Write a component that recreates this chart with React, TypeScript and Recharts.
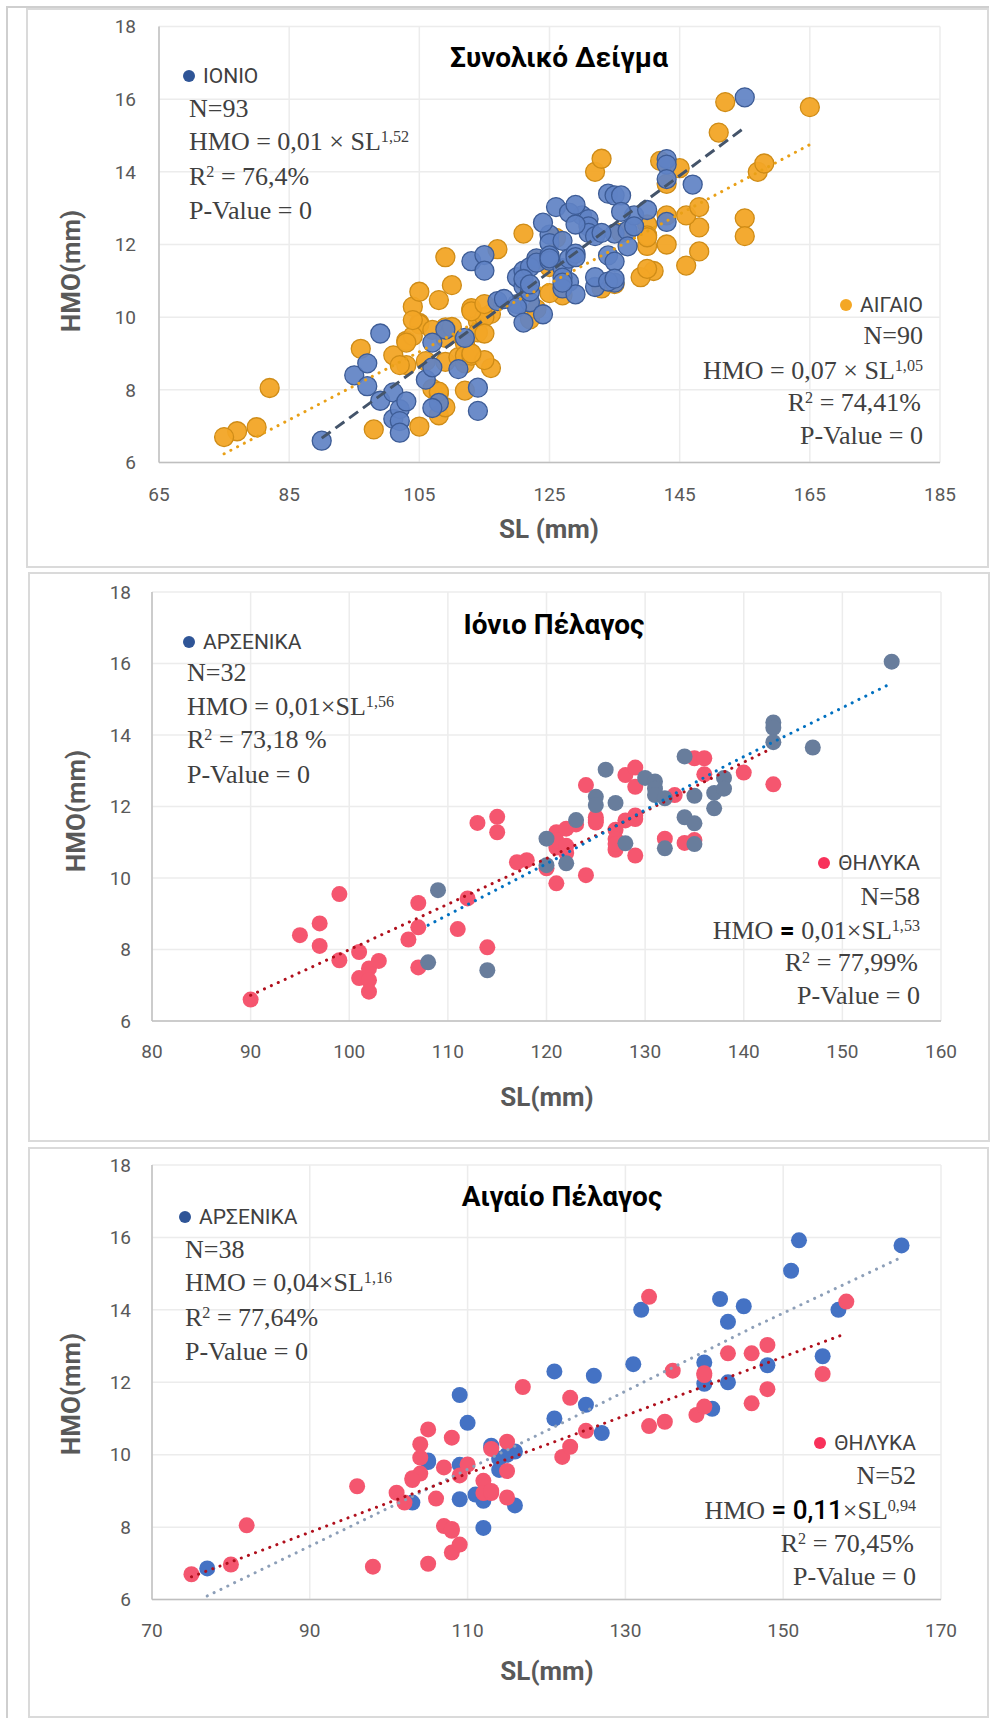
import React from "react";
import { ScatterChart, Scatter, XAxis, YAxis, CartesianGrid } from "recharts";

type P = [number, number]; // [SL, HMO]

// Ιόνιο Πέλαγος
const ionioMale: P[] = [
  [108, 7.64], [109, 9.66], [114, 7.42], [120, 11.1], [120, 10.36], [122, 10.41], [123, 11.62], [125, 12.27],
  [125, 12.04], [126, 13.03], [127, 12.1], [128, 10.97], [130, 12.8], [131, 12.7], [131, 12.5], [131, 12.32],
  [132, 12.23], [132, 10.83], [134, 13.4], [134, 11.7], [135, 12.3], [135, 11.53], [135, 10.95], [137, 12.38],
  [137, 11.95], [138, 12.8], [138, 12.5], [143, 14.35], [143, 14.2], [143, 13.8], [147, 13.65], [155, 16.05],
];
const ionioFemale: P[] = [
  [90, 6.6], [95, 8.4], [97, 8.73], [97, 8.1], [99, 9.55], [99, 7.7], [101, 7.93], [101, 7.2], [102, 7.47],
  [102, 7.14], [102, 6.82], [103, 7.68], [106, 8.28], [107, 9.3], [107, 8.62], [107, 7.5], [111, 8.57],
  [112, 9.43], [113, 11.54], [115, 11.71], [115, 11.28], [114, 8.06], [117, 10.44], [118, 10.5], [120, 10.27],
  [121, 11.28], [121, 10.85], [121, 9.85], [122, 11.38], [122, 10.7], [123, 11.5], [124, 12.6], [124, 10.08],
  [125, 11.7], [125, 11.55], [127, 11.35], [127, 11.09], [127, 10.79], [128, 11.61], [128, 12.88], [129, 13.09],
  [129, 12.55], [129, 11.75], [129, 10.63], [132, 11.1], [133, 12.32], [134, 10.98], [135, 11.06], [135, 13.35],
  [136, 13.35], [136, 12.9], [140, 12.95], [143, 12.62], [121, 11.05], [122, 10.9], [125, 11.62], [127, 10.95],
  [129, 11.65],
];
const ionioMaleTrend: P[] = [[108, 8.68], [121.4, 10.6], [138.3, 13.16], [155, 15.45]];
const ionioFemaleTrend: P[] = [[90, 6.72], [107.9, 9.0], [125.5, 11.25], [142.5, 13.58]];

// Αιγαίο Πέλαγος
const aigaioMale: P[] = [
  [77, 6.86], [103, 8.68], [105, 9.84], [109, 11.65], [109, 9.72], [109, 8.77], [110, 10.88], [111, 8.9],
  [112, 8.73], [112, 7.98], [113, 10.2], [114, 9.89], [114, 9.58], [116, 10.09], [116, 8.6], [121, 12.3],
  [121, 11.0], [125, 11.38], [126, 12.18], [127, 10.6], [131, 12.5], [132, 14.0], [140, 12.55], [140, 11.96],
  [141, 11.27], [142, 14.3], [143, 13.67], [143, 12.0], [145, 14.1], [148, 12.47], [151, 15.08], [152, 15.92],
  [155, 12.72], [157, 14.0], [165, 15.78], [105, 9.8], [113, 10.25], [115, 10.0],
];
const aigaioFemale: P[] = [
  [75, 6.7], [80, 6.97], [82, 8.05], [96, 9.13], [98, 6.91], [101, 8.95], [102, 8.68], [103, 9.35], [104, 9.48],
  [104, 10.29], [104, 9.92], [105, 10.7], [105, 6.99], [106, 8.79], [107, 9.65], [107, 8.03], [108, 10.47],
  [108, 7.9], [108, 7.3], [109, 7.52], [109, 9.43], [110, 9.73], [112, 9.28], [112, 8.94], [113, 8.94],
  [113, 10.16], [115, 10.36], [115, 9.55], [115, 8.82], [117, 11.87], [122, 9.94], [123, 11.57], [123, 10.22],
  [125, 10.66], [133, 14.36], [133, 10.79], [135, 10.91], [136, 12.32], [139, 11.1], [140, 12.25], [140, 11.33],
  [143, 12.8], [146, 12.8], [146, 11.42], [148, 13.03], [148, 11.81], [155, 12.23], [158, 14.23], [103, 9.3],
  [113, 9.0], [140, 12.2], [108, 7.95],
];
const aigaioMaleTrend: P[] = [[77, 6.1], [103, 8.85], [121, 10.77], [146, 13.5], [165, 15.45]];
const aigaioFemaleTrend: P[] = [[75, 6.63], [101.5, 8.8], [121.3, 10.38], [141.6, 12.02], [158, 13.35]];

// Συνολικό δείγμα: τάσεις
const totalIonioTrend: P[] = [[90, 6.67], [122.4, 10.9], [154.7, 15.18]];
const totalAigaioTrend: P[] = [[75, 6.24], [120, 10.45], [165, 14.75]];

const yTicks = [6, 8, 10, 12, 14, 16, 18];
const xTicksTotal = [65, 85, 105, 125, 145, 165, 185];
const xTicksIonio = [80, 90, 100, 110, 120, 130, 140, 150, 160];
const xTicksAigaio = [70, 90, 110, 130, 150, 170];

const rows = (a: P[]) => a.map(([sl, hmo]) => ({ sl, hmo }));

const SERIF = '"Liberation Serif", "Times New Roman", serif';
const SANS = 'Roboto, "Open Sans", sans-serif';
const tickStyle = { fill: "#595959", fontSize: 19, fontFamily: SANS };

const dot = (r: number, fill: string, stroke?: string, op = 1) => (p: any) =>
  <circle cx={p.cx} cy={p.cy} r={r} fill={fill} fillOpacity={op} stroke={stroke || "none"} strokeWidth={1.3} />;
const noDot = () => <g />;
const dotted = (c: string) => ({ stroke: c, strokeWidth: 3, strokeDasharray: "0.1 7.5", strokeLinecap: "round" as const });

function Line({ x, y, right, fs = 26, font = SERIF, color = "#404040", weight = 400, center, children }: any) {
  const s: React.CSSProperties = {
    position: "absolute", top: y - fs / 2, height: fs, lineHeight: fs + "px", fontSize: fs, fontFamily: font,
    color, fontWeight: weight, whiteSpace: "pre",
  };
  if (right !== undefined) s.right = 1000 - right;
  else s.left = x;
  if (center) s.transform = "translateX(-50%)";
  return <div style={s}>{children}</div>;
}
const Sup = ({ children }: any) => <span style={{ fontSize: "0.62em", position: "relative", top: "-0.5em", lineHeight: 0 }}>{children}</span>;
const Bullet = ({ c }: any) => (
  <span style={{ display: "inline-block", width: 12, height: 12, borderRadius: 6, background: c, marginRight: 8, position: "relative", top: -1 }} />
);
const EqB = ({ children, w = 700 }: any) => <span style={{ fontFamily: SANS, fontWeight: w, color: "#000" }}>{children}</span>;

function YTitle({ x, y }: any) {
  return (
    <div style={{ position: "absolute", left: x, top: y, transform: "translate(-50%,-50%) rotate(-90deg)", fontFamily: SANS, fontWeight: 700, fontSize: 26, color: "#595959", whiteSpace: "nowrap", lineHeight: "26px" }}>
      HMO(mm)
    </div>
  );
}

const box = (l: number, t: number, r: number, b: number): React.CSSProperties => ({
  position: "absolute", left: l, top: t, width: r - l, height: b - t, border: "2px solid #dadada", boxSizing: "border-box",
});

export default function App() {
  const grid = <CartesianGrid stroke="#ececec" strokeWidth={1.5} />;
  const axisLine = { stroke: "#bfbfbf", strokeWidth: 1.5 };
  return (
    <div style={{ position: "absolute", left: 0, top: 0, width: 1000, height: 1718, background: "#fff" }}>
      <div style={{ position: "absolute", left: 6, top: 6, width: 2, height: 1712, background: "#cfcfcf" }} />
      <div style={{ position: "absolute", left: 6, top: 6, width: 983, height: 2, background: "#cfcfcf" }} />
      <div style={box(26, 8, 989, 568)} />
      <div style={box(28, 572, 990, 1142)} />
      <div style={box(28, 1147, 989, 1718)} />

      {/* Συνολικό Δείγμα */}
      <div style={{ position: "absolute", left: 0, top: 0 }}>
        <ScatterChart width={1000} height={567} margin={{ top: 26.5, right: 60, left: 109, bottom: 64.5 }}>
          {grid}
          <XAxis type="number" dataKey="sl" domain={[65, 185]} ticks={xTicksTotal} height={40} tickSize={0} tickLine={false} tickMargin={25} tick={tickStyle} axisLine={axisLine} allowDataOverflow />
          <YAxis type="number" dataKey="hmo" domain={[6, 18]} ticks={yTicks} width={50} tickSize={0} tickLine={false} tickMargin={23} tick={tickStyle} axisLine={axisLine} allowDataOverflow />
          <Scatter data={rows([...aigaioMale, ...aigaioFemale])} shape={dot(9.5, "#f2a526", "#cf8c17", 0.95)} isAnimationActive={false} />
          <Scatter data={rows([...ionioMale, ...ionioFemale])} shape={dot(9.5, "#5f82c4", "#3d5c96", 0.92)} isAnimationActive={false} />
          <Scatter data={rows(totalAigaioTrend)} shape={noDot} line={dotted("#e9a017")} isAnimationActive={false} />
          <Scatter data={rows(totalIonioTrend)} shape={noDot} line={{ stroke: "#44546a", strokeWidth: 3, strokeDasharray: "11 6" }} isAnimationActive={false} />
        </ScatterChart>
      </div>
      <Line x={559} y={58} fs={28} font={SANS} weight={700} color="#000" center>Συνολικό Δείγμα</Line>
      <Line x={183} y={76} fs={21} font={SANS}><Bullet c="#2f5597" />ΙΟΝΙΟ</Line>
      <Line x={189} y={109}>N=93</Line>
      <Line x={189} y={142}>HMO = 0,01 × SL<Sup>1,52</Sup></Line>
      <Line x={189} y={177}>R<Sup>2</Sup> = 76,4%</Line>
      <Line x={189} y={211}>P-Value = 0</Line>
      <Line right={923} y={305} fs={21} font={SANS}><Bullet c="#f4a724" />ΑΙΓΑΙΟ</Line>
      <Line right={923} y={336}>N=90</Line>
      <Line right={923} y={371}>HMO = 0,07 × SL<Sup>1,05</Sup></Line>
      <Line right={921} y={403}>R<Sup>2</Sup> = 74,41%</Line>
      <Line right={923} y={436}>P-Value = 0</Line>
      <YTitle x={71} y={271} />
      <Line x={549} y={529} fs={26} font={SANS} weight={700} color="#595959" center>SL (mm)</Line>

      {/* Ιόνιο Πέλαγος */}
      <div style={{ position: "absolute", left: 0, top: 570 }}>
        <ScatterChart width={1000} height={575} margin={{ top: 22, right: 59, left: 102, bottom: 84 }}>
          {grid}
          <XAxis type="number" dataKey="sl" domain={[80, 160]} ticks={xTicksIonio} height={40} tickSize={0} tickLine={false} tickMargin={24} tick={tickStyle} axisLine={axisLine} allowDataOverflow />
          <YAxis type="number" dataKey="hmo" domain={[6, 18]} ticks={yTicks} width={50} tickSize={0} tickLine={false} tickMargin={21} tick={tickStyle} axisLine={axisLine} allowDataOverflow />
          <Scatter data={rows(ionioFemale)} shape={dot(8, "#f5566f")} isAnimationActive={false} />
          <Scatter data={rows(ionioMale)} shape={dot(8, "#687d9c")} isAnimationActive={false} />
          <Scatter data={rows(ionioFemaleTrend)} shape={noDot} line={dotted("#b00f1c")} isAnimationActive={false} />
          <Scatter data={rows(ionioMaleTrend)} shape={noDot} line={dotted("#0070c0")} isAnimationActive={false} />
        </ScatterChart>
      </div>
      <Line x={554} y={625} fs={28} font={SANS} weight={700} color="#000" center>Ιόνιο Πέλαγος</Line>
      <Line x={183} y={642} fs={21} font={SANS}><Bullet c="#2f5597" />ΑΡΣΕΝΙΚΑ</Line>
      <Line x={187} y={673}>N=32</Line>
      <Line x={187} y={707}>HMO = 0,01×SL<Sup>1,56</Sup></Line>
      <Line x={187} y={740}>R<Sup>2</Sup> = 73,18 %</Line>
      <Line x={187} y={775}>P-Value = 0</Line>
      <Line right={920} y={863} fs={21} font={SANS}><Bullet c="#f8315a" />ΘΗΛΥΚΑ</Line>
      <Line right={920} y={897}>N=58</Line>
      <Line right={920} y={930}>HMO <EqB>=</EqB> 0,01×SL<Sup>1,53</Sup></Line>
      <Line right={918} y={963}>R<Sup>2</Sup> = 77,99%</Line>
      <Line right={920} y={996}>P-Value = 0</Line>
      <YTitle x={76} y={811} />
      <Line x={547} y={1097} fs={26} font={SANS} weight={700} color="#595959" center>SL(mm)</Line>

      {/* Αιγαίο Πέλαγος */}
      <div style={{ position: "absolute", left: 0, top: 1145 }}>
        <ScatterChart width={1000} height={573} margin={{ top: 20, right: 59, left: 102, bottom: 78.4 }}>
          {grid}
          <XAxis type="number" dataKey="sl" domain={[70, 170]} ticks={xTicksAigaio} height={40} tickSize={0} tickLine={false} tickMargin={24} tick={tickStyle} axisLine={axisLine} allowDataOverflow />
          <YAxis type="number" dataKey="hmo" domain={[6, 18]} ticks={yTicks} width={50} tickSize={0} tickLine={false} tickMargin={21} tick={tickStyle} axisLine={axisLine} allowDataOverflow />
          <Scatter data={rows(aigaioMale)} shape={dot(8, "#4472c4")} isAnimationActive={false} />
          <Scatter data={rows(aigaioFemale)} shape={dot(8, "#f4566f")} isAnimationActive={false} />
          <Scatter data={rows(aigaioMaleTrend)} shape={noDot} line={dotted("#8d9fb8")} isAnimationActive={false} />
          <Scatter data={rows(aigaioFemaleTrend)} shape={noDot} line={dotted("#b00f1c")} isAnimationActive={false} />
        </ScatterChart>
      </div>
      <Line x={562} y={1197} fs={28} font={SANS} weight={700} color="#000" center>Αιγαίο Πέλαγος</Line>
      <Line x={179} y={1217} fs={21} font={SANS}><Bullet c="#2f5597" />ΑΡΣΕΝΙΚΑ</Line>
      <Line x={185} y={1250}>N=38</Line>
      <Line x={185} y={1283}>HMO = 0,04×SL<Sup>1,16</Sup></Line>
      <Line x={185} y={1318}>R<Sup>2</Sup> = 77,64%</Line>
      <Line x={185} y={1352}>P-Value = 0</Line>
      <Line right={916} y={1443} fs={21} font={SANS}><Bullet c="#f8315a" />ΘΗΛΥΚΑ</Line>
      <Line right={916} y={1476}>N=52</Line>
      <Line right={916} y={1510}>HMO <EqB w={500}>= 0,11</EqB>×SL<Sup>0,94</Sup></Line>
      <Line right={914} y={1544}>R<Sup>2</Sup> = 70,45%</Line>
      <Line right={916} y={1577}>P-Value = 0</Line>
      <YTitle x={71} y={1394} />
      <Line x={547} y={1671} fs={26} font={SANS} weight={700} color="#595959" center>SL(mm)</Line>
    </div>
  );
}
